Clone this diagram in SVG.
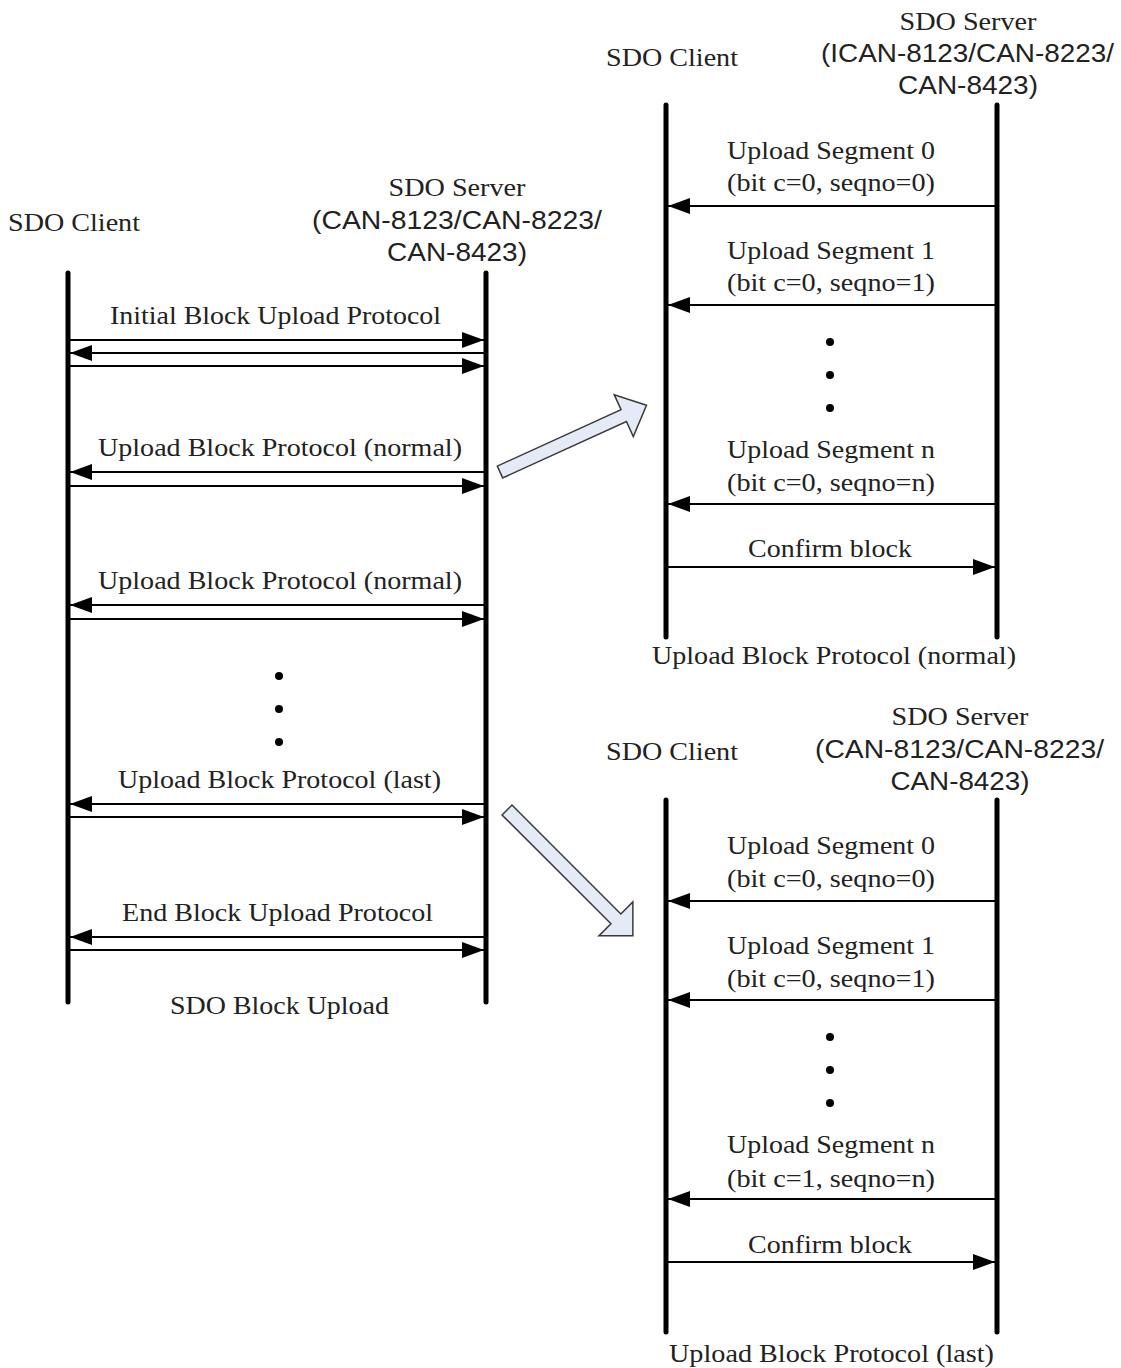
<svg xmlns="http://www.w3.org/2000/svg" width="1121" height="1368" viewBox="0 0 1121 1368">
<style>
.t{font-family:"Liberation Serif","Times New Roman",serif;font-size:26px;fill:#222;text-anchor:middle}
.s{font-family:"Liberation Sans",Arial,sans-serif;font-size:25px;fill:#222;text-anchor:middle}
.life{stroke:#000;stroke-width:5;stroke-linecap:round}
.msg{stroke:#000;stroke-width:2;fill:none}
.r{marker-end:url(#ah)}
.big{fill:#E4EBF7;stroke:#3a3a3a;stroke-width:1.5;stroke-linejoin:miter}
.dot{fill:#000}
</style>
<defs>
<marker id="ah" markerUnits="userSpaceOnUse" markerWidth="22" markerHeight="16" refX="22" refY="8" orient="auto">
<path d="M0,0 L22,8 L0,16 Z" fill="#000"/>
</marker>
</defs>
<rect width="1121" height="1368" fill="#fff"/>

<!-- Left diagram -->
<g id="left-client">
<text class="t" x="74" y="231" textLength="132" lengthAdjust="spacingAndGlyphs">SDO Client</text>
<line class="life" x1="68" y1="273" x2="68" y2="1002"/>
</g>
<g id="left-server">
<text class="t" x="457" y="196" textLength="137" lengthAdjust="spacingAndGlyphs">SDO Server</text>
<text class="s" x="457" y="229" textLength="290" lengthAdjust="spacingAndGlyphs">(CAN-8123/CAN-8223/</text>
<text class="s" x="457" y="261" textLength="140" lengthAdjust="spacingAndGlyphs">CAN-8423)</text>
<line class="life" x1="486" y1="273" x2="486" y2="1002"/>
</g>
<g id="left-labels">
<text class="t" x="275.5" y="324" textLength="331" lengthAdjust="spacingAndGlyphs">Initial Block Upload Protocol</text>
<text class="t" x="280" y="456" textLength="364" lengthAdjust="spacingAndGlyphs">Upload Block Protocol (normal)</text>
<text class="t" x="280" y="589" textLength="364" lengthAdjust="spacingAndGlyphs">Upload Block Protocol (normal)</text>
<text class="t" x="279.5" y="788" textLength="323" lengthAdjust="spacingAndGlyphs">Upload Block Protocol (last)</text>
<text class="t" x="277.5" y="921" textLength="311" lengthAdjust="spacingAndGlyphs">End Block Upload Protocol</text>
<text class="t" x="279.5" y="1014" textLength="219" lengthAdjust="spacingAndGlyphs">SDO Block Upload</text>
<circle class="dot" cx="279" cy="676" r="4"/>
<circle class="dot" cx="279" cy="709" r="4"/>
<circle class="dot" cx="279" cy="742" r="4"/>
</g>

<!-- Top right diagram -->
<g id="tr-client">
<text class="t" x="672" y="66" textLength="132" lengthAdjust="spacingAndGlyphs">SDO Client</text>
<line class="life" x1="666" y1="105" x2="666" y2="637"/>
</g>
<g id="tr-server">
<text class="t" x="968" y="30" textLength="137" lengthAdjust="spacingAndGlyphs">SDO Server</text>
<text class="s" x="967.5" y="62" textLength="293" lengthAdjust="spacingAndGlyphs">(ICAN-8123/CAN-8223/</text>
<text class="s" x="968" y="94" textLength="140" lengthAdjust="spacingAndGlyphs">CAN-8423)</text>
<line class="life" x1="997" y1="105" x2="997" y2="637"/>
</g>
<g id="tr-labels">
<text class="t" x="831" y="159" textLength="208" lengthAdjust="spacingAndGlyphs">Upload Segment 0</text>
<text class="t" x="831" y="191" textLength="208" lengthAdjust="spacingAndGlyphs">(bit c=0, seqno=0)</text>
<text class="t" x="831" y="259" textLength="208" lengthAdjust="spacingAndGlyphs">Upload Segment 1</text>
<text class="t" x="831" y="291" textLength="208" lengthAdjust="spacingAndGlyphs">(bit c=0, seqno=1)</text>
<text class="t" x="831" y="458" textLength="208" lengthAdjust="spacingAndGlyphs">Upload Segment n</text>
<text class="t" x="831" y="491" textLength="208" lengthAdjust="spacingAndGlyphs">(bit c=0, seqno=n)</text>
<text class="t" x="830" y="557" textLength="164" lengthAdjust="spacingAndGlyphs">Confirm block</text>
<text class="t" x="834" y="664" textLength="364" lengthAdjust="spacingAndGlyphs">Upload Block Protocol (normal)</text>
<circle class="dot" cx="830" cy="342" r="4"/>
<circle class="dot" cx="830" cy="375" r="4"/>
<circle class="dot" cx="830" cy="408" r="4"/>
</g>

<!-- Bottom right diagram -->
<g id="br-client">
<text class="t" x="672" y="760" textLength="132" lengthAdjust="spacingAndGlyphs">SDO Client</text>
<line class="life" x1="666" y1="800" x2="666" y2="1332"/>
</g>
<g id="br-server">
<text class="t" x="960" y="725" textLength="137" lengthAdjust="spacingAndGlyphs">SDO Server</text>
<text class="s" x="959.5" y="758" textLength="289" lengthAdjust="spacingAndGlyphs">(CAN-8123/CAN-8223/</text>
<text class="s" x="960" y="790" textLength="139" lengthAdjust="spacingAndGlyphs">CAN-8423)</text>
<line class="life" x1="997" y1="800" x2="997" y2="1332"/>
</g>
<g id="br-labels">
<text class="t" x="831" y="854" textLength="208" lengthAdjust="spacingAndGlyphs">Upload Segment 0</text>
<text class="t" x="831" y="887" textLength="208" lengthAdjust="spacingAndGlyphs">(bit c=0, seqno=0)</text>
<text class="t" x="831" y="954" textLength="208" lengthAdjust="spacingAndGlyphs">Upload Segment 1</text>
<text class="t" x="831" y="987" textLength="208" lengthAdjust="spacingAndGlyphs">(bit c=0, seqno=1)</text>
<text class="t" x="831" y="1153" textLength="208" lengthAdjust="spacingAndGlyphs">Upload Segment n</text>
<text class="t" x="831" y="1187" textLength="208" lengthAdjust="spacingAndGlyphs">(bit c=1, seqno=n)</text>
<text class="t" x="830" y="1253" textLength="164" lengthAdjust="spacingAndGlyphs">Confirm block</text>
<text class="t" x="831.5" y="1362" textLength="325" lengthAdjust="spacingAndGlyphs">Upload Block Protocol (last)</text>
<circle class="dot" cx="830" cy="1037" r="4"/>
<circle class="dot" cx="830" cy="1070" r="4"/>
<circle class="dot" cx="830" cy="1103" r="4"/>
</g>

<!-- Connectors -->
<g id="connectors">
<line class="msg r" x1="70" y1="340" x2="484" y2="340"/>
<line class="msg r" x1="484" y1="353" x2="70" y2="353"/>
<line class="msg r" x1="70" y1="366" x2="484" y2="366"/>
<line class="msg r" x1="484" y1="472" x2="70" y2="472"/>
<line class="msg r" x1="70" y1="486" x2="484" y2="486"/>
<line class="msg r" x1="484" y1="605" x2="70" y2="605"/>
<line class="msg r" x1="70" y1="619" x2="484" y2="619"/>
<line class="msg r" x1="484" y1="804" x2="70" y2="804"/>
<line class="msg r" x1="70" y1="817" x2="484" y2="817"/>
<line class="msg r" x1="484" y1="937" x2="70" y2="937"/>
<line class="msg r" x1="70" y1="950" x2="484" y2="950"/>

<line class="msg r" x1="995" y1="206" x2="668" y2="206"/>
<line class="msg r" x1="995" y1="305" x2="668" y2="305"/>
<line class="msg r" x1="995" y1="504" x2="668" y2="504"/>
<line class="msg r" x1="668" y1="567" x2="995" y2="567"/>

<line class="msg r" x1="995" y1="901" x2="668" y2="901"/>
<line class="msg r" x1="995" y1="1000" x2="668" y2="1000"/>
<line class="msg r" x1="995" y1="1199" x2="668" y2="1199"/>
<line class="msg r" x1="668" y1="1262" x2="995" y2="1262"/>

<polygon id="zoom-arrow-normal" class="big" transform="translate(500,472) rotate(-24.5)" points="0,-6.5 136,-6.5 136,-23 161,0 136,23 136,6.5 0,6.5"/>
<polygon id="zoom-arrow-last" class="big" transform="translate(507,810) rotate(45)" points="0,-7 154,-7 154,-24 178,0 154,24 154,7 0,7"/>
</g>
</svg>
